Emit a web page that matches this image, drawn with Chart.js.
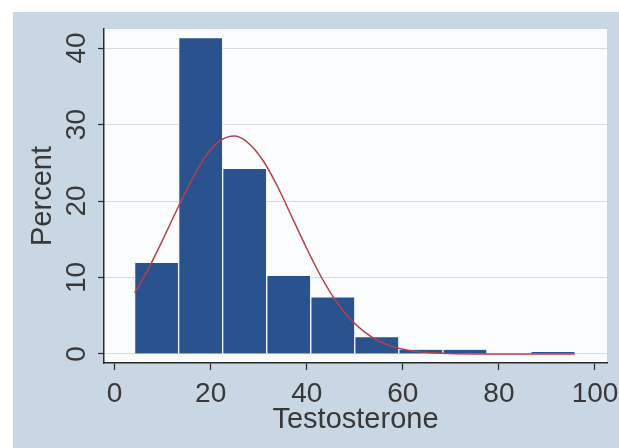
<!DOCTYPE html>
<html lang="en">
<head>
    <meta charset="UTF-8">
    <title>Testosterone histogram</title>
    <script src="https://cdn.jsdelivr.net/npm/chart.js"></script>
    <style>
        body {
            margin: 0;
            padding: 0;
            background-color: #ffffff;
        }
        #chartBox {
            width: 619px;
            height: 448px;
        }
    </style>
</head>
<body>
    <div id="chartBox">
        <canvas id="histChart" width="619" height="448"></canvas>
    </div>

    <script>
        // bins of the histogram (centres, in testosterone units) and their percent
        const binCenters = [8.75, 17.92, 27.08, 36.25, 45.42, 54.58, 63.75, 72.92, 82.08, 91.25];
        const binPercent = [11.9, 41.3, 24.2, 10.2, 7.4, 2.2, 0.55, 0.55, 0, 0.25];

        // normal curve
        const curveX = [4.2, 7, 10, 13, 16, 19, 22, 25, 28, 31, 34, 37, 40, 43, 46, 49, 52, 55, 58, 61, 64, 68, 75, 85, 95.8];
        const curveY = [8.0, 11.1, 14.9, 18.9, 22.7, 25.9, 27.9, 28.5, 27.5, 25.2, 21.8, 17.8, 13.8, 10.1, 7.0, 4.6, 2.9, 1.7, 0.95, 0.5, 0.25, 0.09, 0.01, 0, 0];

        const xTicks = [0, 20, 40, 60, 80, 100];
        const yTicks = [0, 10, 20, 30, 40];

        const textColor = '#383838';
        const fontFamily = '"Liberation Sans", Arial, sans-serif';

        // background: white edge, blue-grey graph region, white plot region
        const backgroundPlugin = {
            id: 'backgrounds',
            beforeDraw(chart) {
                const ctx = chart.ctx;
                const area = chart.chartArea;
                ctx.save();
                ctx.fillStyle = '#ffffff';
                ctx.fillRect(0, 0, chart.width, chart.height);
                ctx.fillStyle = '#c9d6e4';
                ctx.fillRect(13, 12, chart.width - 13, chart.height - 12);
                ctx.fillStyle = '#fbfcfe';
                ctx.fillRect(area.left, area.top, area.right - area.left, area.bottom - area.top);
                ctx.restore();
            }
        };

        const barData = binCenters.map((c, i) => ({ x: c, y: binPercent[i] }));
        const curveData = curveX.map((c, i) => ({ x: c, y: curveY[i] }));

        const ctx = document.getElementById('histChart').getContext('2d');
        const histChart = new Chart(ctx, {
            type: 'bar',
            data: {
                datasets: [
                    {
                        type: 'line',
                        data: curveData,
                        borderColor: '#b3404c',
                        borderWidth: 1.5,
                        pointRadius: 0,
                        cubicInterpolationMode: 'monotone',
                        order: 0
                    },
                    {
                        type: 'bar',
                        data: barData,
                        backgroundColor: '#29528f',
                        borderColor: '#f2f5f9',
                        borderWidth: { left: 1, right: 1, top: 0, bottom: 0 },
                        borderSkipped: false,
                        barPercentage: 1,
                        categoryPercentage: 1,
                        grouped: false,
                        order: 1
                    }
                ]
            },
            options: {
                responsive: false,
                animation: false,
                devicePixelRatio: 1,
                layout: {
                    padding: { left: 13, top: 29, right: 12, bottom: 0 }
                },
                plugins: {
                    legend: { display: false },
                    tooltip: { enabled: false }
                },
                scales: {
                    x: {
                        type: 'linear',
                        offset: false,
                        min: -2.2,
                        max: 102.5,
                        afterBuildTicks: (scale) => {
                            scale.ticks = xTicks.map(v => ({ value: v }));
                        },
                        afterFit: (scale) => {
                            scale.height = 85;
                            scale.paddingLeft = 0;
                            scale.paddingRight = 0;
                        },
                        grid: {
                            offset: false,
                            drawOnChartArea: false,
                            drawTicks: true,
                            tickLength: 7,
                            tickColor: '#2a2a2a',
                            tickWidth: 1.2
                        },
                        border: { display: true, color: '#2a2a2a', width: 1.5 },
                        ticks: {
                            color: textColor,
                            padding: 7,
                            maxRotation: 0,
                            font: { family: fontFamily, size: 28 }
                        },
                        title: {
                            display: true,
                            text: 'Testosterone',
                            color: textColor,
                            padding: { top: 0, bottom: 11 },
                            font: { family: fontFamily, size: 29 }
                        }
                    },
                    y: {
                        min: -1.18,
                        max: 42.5,
                        afterBuildTicks: (scale) => {
                            scale.ticks = yTicks.map(v => ({ value: v }));
                        },
                        afterFit: (scale) => {
                            scale.width = 91;
                        },
                        grid: {
                            color: '#d3dbe3',
                            lineWidth: 1,
                            drawTicks: true,
                            tickLength: 6,
                            tickColor: '#2a2a2a',
                            tickWidth: 1.2
                        },
                        border: { display: true, color: '#2a2a2a', width: 1.5 },
                        ticks: {
                            color: textColor,
                            padding: 5,
                            minRotation: 90,
                            maxRotation: 90,
                            crossAlign: 'center',
                            font: { family: fontFamily, size: 28 }
                        },
                        title: {
                            display: true,
                            text: 'Percent',
                            color: textColor,
                            padding: { top: 13, bottom: 0 },
                            font: { family: fontFamily, size: 29 }
                        }
                    }
                }
            },
            plugins: [backgroundPlugin]
        });
    </script>
</body>
</html>
